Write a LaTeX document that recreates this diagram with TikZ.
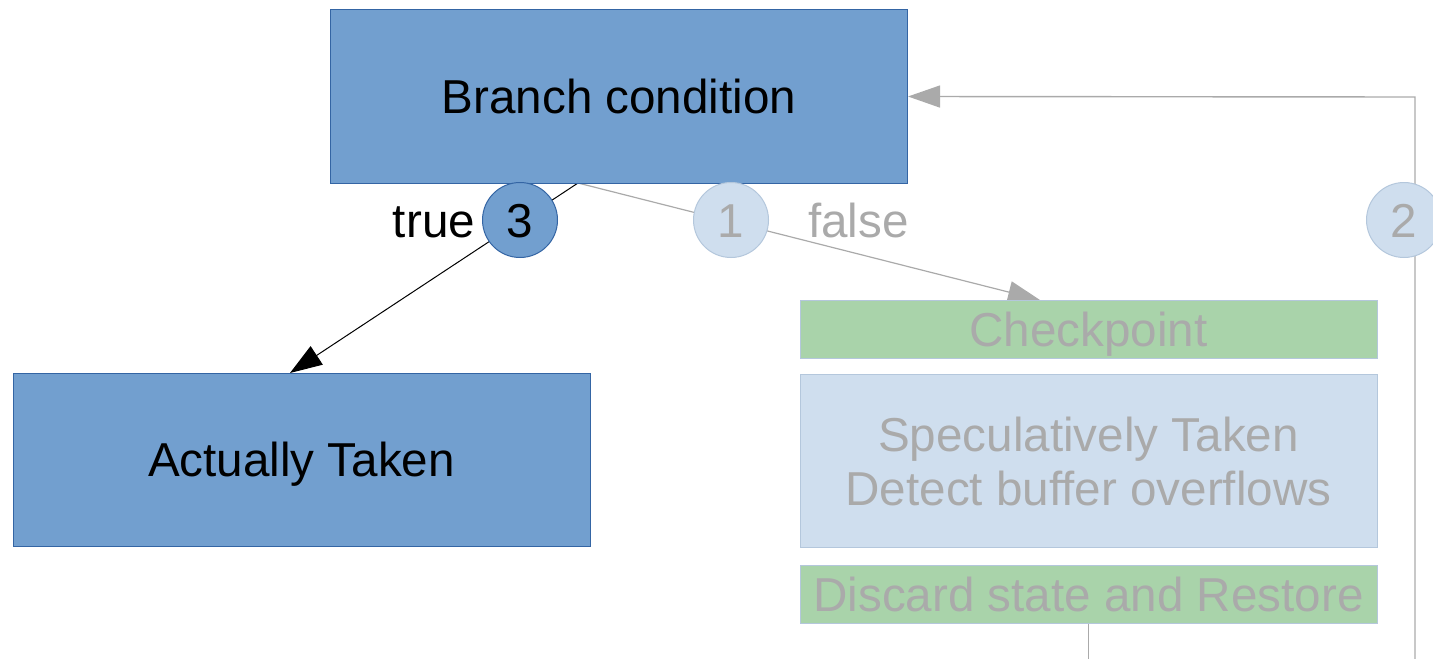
\documentclass[tikz,border=0pt]{standalone}
\usepackage{fontspec}
\setmainfont{Liberation Sans}
\usetikzlibrary{arrows.meta, backgrounds, positioning}

\definecolor{bluefill}{HTML}{729FCF}
\definecolor{blueline}{HTML}{3465A4}
\definecolor{palefill}{HTML}{CFDEEE}
\definecolor{paleline}{HTML}{B4C7DC}
\definecolor{greenfill}{HTML}{A9D3AA}
\definecolor{ghosttext}{HTML}{AAAAAA}

\begin{document}
\begin{tikzpicture}[x=0.5pt, y=-0.5pt]

\tikzset{every node/.style = {font=\fontsize{23.8}{27}\selectfont}}
\tikzset{block/.style = {draw=blueline, fill=bluefill, line width=0.5pt, minimum width=288.5pt, minimum height=86.5pt, inner sep=0pt, text height=17pt, text depth=0pt}}
\tikzset{ghost/.style = {draw=paleline, line width=0.4pt, text=ghosttext, minimum width=288.5pt, inner sep=0pt}}
\tikzset{badge/.style = {shape=circle, draw, line width=0.5pt, minimum size=37.5pt, inner sep=0pt, text height=17pt, text depth=0pt}}
\tikzset{edge/.style = {-{Triangle[length=16pt,width=11pt]}}}

\useasboundingbox (0,0) rectangle (1433,658);
%boxes
\node[block] (branch) at (619,96.5) {Branch condition};
\node[block] (taken) at (301.5,459.5) {Actually Taken};
\node[ghost, fill=greenfill, minimum height=29pt, text height=17pt, text depth=0pt] (check) at (1088.5,329) {Checkpoint};
\node[ghost, fill=palefill, minimum height=86.5pt, align=center] (spec) at (1088.5,461) {Speculatively Taken\\Detect buffer overflows};
\node[ghost, fill=greenfill, minimum height=29pt, text height=17pt, text depth=0pt] (discard) at (1088.5,594) {Discard state and Restore};
%badges
\node[badge, draw=blueline, fill=bluefill] (c3) at (520,220) {3};
\node[badge, draw=paleline, fill=palefill, text=ghosttext] (c1) at (731,220) {1};
\node[badge, draw=paleline, fill=palefill, text=ghosttext] (c2) at (1404,220) {2};
\node[left=0pt of c3, text height=17pt, text depth=0pt] (truelbl) {true};
\node[right=16pt of c1, text=ghosttext, text height=17pt, text depth=0pt] (falselbl) {false};
%edges
\coordinate (fork) at (578,183);
\coordinate (takenin) at (290,373);
\coordinate (checkin) at (1040,300);
\coordinate (loopfoot) at (1415,660);
\coordinate (loopcorner) at (1415,97);
\coordinate (tail) at (1088.5,660);
\begin{pgfonlayer}{background}
\draw [edge, line width=0.5pt] (fork) -- (takenin);
\draw [edge, ghosttext, line width=0.6pt] (fork) -- (checkin);
\draw [edge, ghosttext, line width=0.7pt] (loopfoot) -- (loopcorner) -- (branch.east);
\draw [ghosttext, line width=0.6pt] (discard.south) -- (tail);
\end{pgfonlayer}

\end{tikzpicture}
\end{document}
